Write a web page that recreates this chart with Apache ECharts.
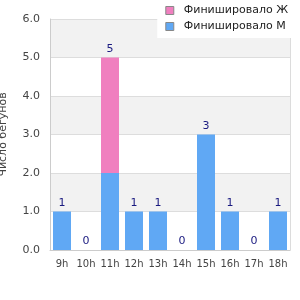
<!DOCTYPE html>
<html><head><meta charset="utf-8">
<script src="https://cdn.jsdelivr.net/npm/echarts@6/dist/echarts.min.js"></script>
<style>html,body{margin:0;padding:0;background:#fff}#c{width:300px;height:300px}</style>
</head><body><div id="c"></div>
<script>
var categories = ['9h','10h','11h','12h','13h','14h','15h','16h','17h','18h'];
var finishedW = [0,0,3,0,0,0,0,0,0,0];
var finishedM = [1,0,2,1,1,0,3,1,0,1];
var yTicks = [0,1,2,3,4,5,6];
var nameW = 'Финишировало Ж';
var nameM = 'Финишировало М';
var totals = categories.map(function(_, i){ return finishedW[i] + finishedM[i]; });

var chart = echarts.init(document.getElementById('c'), null, {renderer:'canvas'});
chart.setOption({
  animation: false,
  textStyle: {fontFamily: 'DejaVu Sans'},
  grid: {left: 50, right: 10, top: 19, bottom: 50, containLabel: false, outerBoundsMode: 'none'},
  legend: {
    right: 0, top: 0, orient: 'vertical', backgroundColor: '#fff',
    padding: [5, 12, 6, 8], itemGap: 5, itemWidth: 8, itemHeight: 8,
    textStyle: {fontSize: 11, color: '#222', fontFamily: 'DejaVu Sans', padding: [0, 0, 0, 5]},
    data: [
      {name: nameW, icon: 'rect', itemStyle: {borderColor: '#888', borderWidth: 1}},
      {name: nameM, icon: 'rect', itemStyle: {borderColor: '#888', borderWidth: 1}}
    ]
  },
  xAxis: {
    type: 'category', data: categories,
    axisLine: {lineStyle: {color: '#cccccc'}},
    axisTick: {show: false},
    splitLine: {show: false},
    splitArea: {show: false},
    axisLabel: {fontSize: 10, color: '#444', margin: 9, interval: 0}
  },
  yAxis: [{
    type: 'value', min: yTicks[0], max: yTicks[yTicks.length-1], interval: 1,
    name: 'Число бегунов', nameLocation: 'middle', nameGap: 41, nameRotate: 90,
    nameTextStyle: {fontSize: 11, color: '#444'},
    axisLine: {show: true, lineStyle: {color: '#cccccc'}},
    axisTick: {show: false},
    axisLabel: {fontSize: 11, color: '#444', margin: 10, formatter: function(v){ return v.toFixed(1); }},
    splitLine: {lineStyle: {color: '#dddddd'}},
    splitArea: {show: true, areaStyle: {color: ['rgba(255,255,255,0)', '#f2f2f2']}}
  }, {
    type: 'value', position: 'right', min: yTicks[0], max: yTicks[yTicks.length-1], interval: 1,
    axisLine: {show: true, lineStyle: {color: '#dcdcdc'}},
    axisTick: {show: false}, axisLabel: {show: false},
    splitLine: {show: false}, splitArea: {show: false}
  }],
  series: [
    {name: nameM, type: 'bar', stack: 's', data: finishedM, barWidth: 18,
     itemStyle: {color: '#60a8f4'}},
    {name: nameW, type: 'bar', stack: 's', data: finishedW, barWidth: 18,
     itemStyle: {color: '#f07fbf'},
     label: {show: true, position: 'top', distance: 3, fontSize: 11, color: '#1a1a80',
       formatter: function(p){ return String(totals[p.dataIndex]); }}}
  ]
});
</script></body></html>
